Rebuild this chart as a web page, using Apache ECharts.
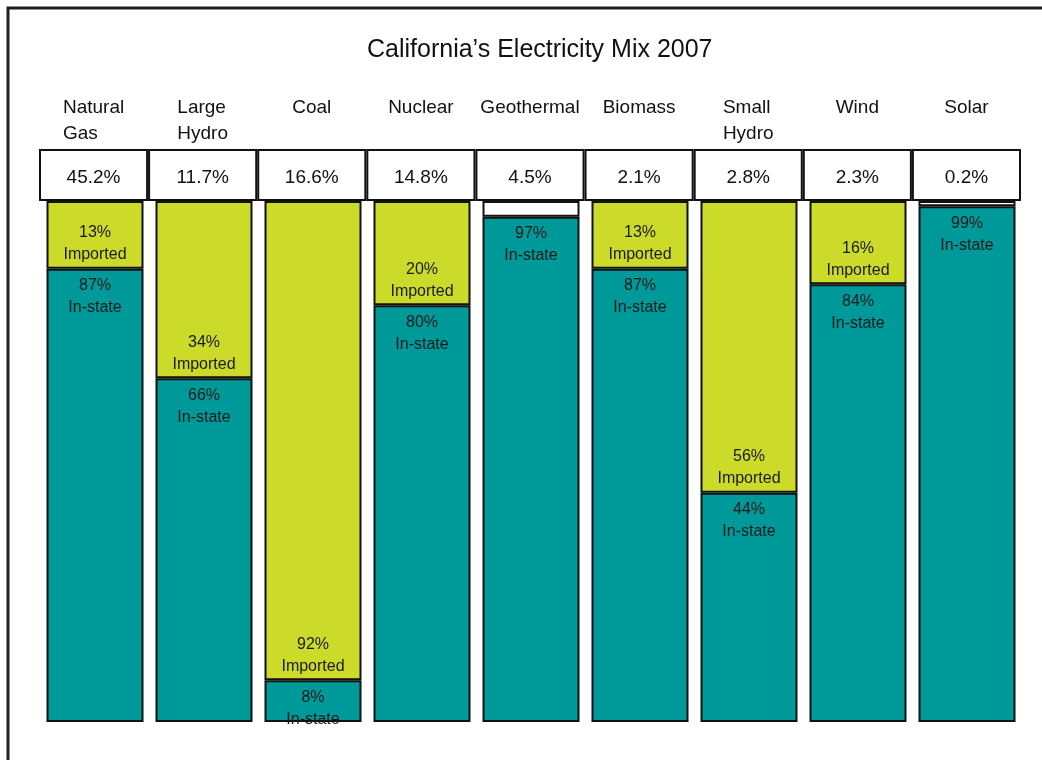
<!DOCTYPE html>
<html>
<head>
<meta charset="utf-8">
<script src="https://cdn.jsdelivr.net/npm/echarts@6/dist/echarts.min.js"></script>
<style>
html,body{margin:0;padding:0;background:#fff;}
#chart{width:1042px;height:760px;}
</style>
</head>
<body>
<div id="chart"></div>
<script>
const categories = ['Natural\nGas', 'Large\nHydro', 'Coal', 'Nuclear', 'Geothermal', 'Biomass', 'Small\nHydro', 'Wind', 'Solar'];
const shareOfMix = [45.2, 11.7, 16.6, 14.8, 4.5, 2.1, 2.8, 2.3, 0.2];
const inState = [87, 66, 8, 80, 97, 87, 44, 84, 99];
const imported = [13, 34, 92, 20, null, 13, 56, 16, null];
const unspecified = [null, null, null, null, 3, null, null, null, 1];

const FONT = '"Liberation Sans", Arial, sans-serif';
const TEAL = '#009999';
const LIME = '#CCDB2A';

const chart = echarts.init(document.getElementById('chart'), null, {renderer: 'canvas'});

const option = {
  backgroundColor: '#ffffff',
  animation: false,
  textStyle: {fontFamily: FONT},
  title: {
    text: 'California\u2019s Electricity Mix 2007',
    left: 362,
    top: 33,
    textStyle: {fontFamily: FONT, fontSize: 25, fontWeight: 'normal', color: '#111'}
  },
  graphic: [{
    type: 'polyline',
    shape: {points: [[8, 760], [8, 8], [1042, 8]]},
    style: {stroke: '#1e1e1e', lineWidth: 3, fill: null},
    silent: true
  }],
  grid: [
    {left: 39, right: 21, top: 149, height: 52},
    {left: 40.5, right: 20.5, top: 201, bottom: 38}
  ],
  xAxis: [
    {
      type: 'category', gridIndex: 0, data: categories, position: 'top',
      axisLine: {show: false}, axisTick: {show: false}, splitLine: {show: false},
      axisLabel: {
        interval: 0, margin: 54, verticalAlign: 'top', align: 'center',
        formatter: v => v.split('\n').map(s => '{l|' + s + '}').join('\n'),
        rich: {l: {align: 'left', fontSize: 19, lineHeight: 26, color: '#111', fontFamily: FONT}}
      }
    },
    {
      type: 'category', gridIndex: 1, data: categories,
      axisLine: {show: false}, axisTick: {show: false}, axisLabel: {show: false}, splitLine: {show: false}
    }
  ],
  yAxis: [
    {type: 'value', gridIndex: 0, min: 0, max: 1, show: false},
    {type: 'value', gridIndex: 1, min: 0, max: 100, show: false}
  ],
  series: [
    {
      name: 'Share of mix', type: 'bar', xAxisIndex: 0, yAxisIndex: 0,
      data: shareOfMix.map(v => ({value: 1, share: v})),
      barCategoryGap: '0%',
      itemStyle: {color: '#ffffff', borderColor: '#111', borderWidth: 2},
      label: {
        show: true, position: 'inside', offset: [0, 3], fontSize: 19, color: '#111', fontFamily: FONT,
        formatter: p => shareOfMix[p.dataIndex].toFixed(1) + '%'
      },
      silent: true
    },
    {
      name: 'In-state', type: 'bar', stack: 'mix', xAxisIndex: 1, yAxisIndex: 1,
      data: inState, barWidth: 97,
      itemStyle: {color: TEAL, borderColor: '#111', borderWidth: 2},
      label: {
        show: true, position: 'insideTop', distance: 6, fontSize: 16, lineHeight: 22,
        color: '#1a1a1a', fontFamily: FONT,
        formatter: '{c}%\nIn-state'
      }
    },
    {
      name: 'Imported', type: 'bar', stack: 'mix', xAxisIndex: 1, yAxisIndex: 1,
      data: imported, barWidth: 97,
      itemStyle: {color: LIME, borderColor: '#111', borderWidth: 2},
      label: {
        show: true, position: 'insideBottom', distance: 3, fontSize: 16, lineHeight: 22,
        color: '#1a1a1a', fontFamily: FONT,
        formatter: '{c}%\nImported'
      }
    },
    {
      name: 'Unspecified', type: 'bar', stack: 'mix', xAxisIndex: 1, yAxisIndex: 1,
      data: unspecified, barWidth: 97,
      itemStyle: {color: '#ffffff', borderColor: '#111', borderWidth: 2},
      label: {show: false}
    }
  ]
};
chart.setOption(option);
</script>
</body>
</html>
